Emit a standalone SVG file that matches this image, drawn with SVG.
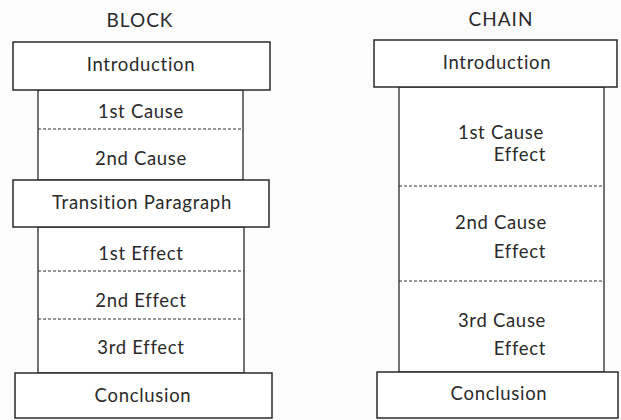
<svg xmlns="http://www.w3.org/2000/svg" width="621" height="420" viewBox="0 0 621 420">
<style>
.box{fill:#fff;stroke:#2a2a2a;stroke-width:1.5}
.col{fill:#fff;stroke:#2a2a2a;stroke-width:1.3}
.dash{stroke:#333;stroke-width:1.2;stroke-dasharray:3 2;fill:none}
text{font-family:Lato,"Open Sans",sans-serif;font-size:18.5px;letter-spacing:0.7px;fill:#2a2a2a;text-anchor:middle}
.title{font-size:19px;letter-spacing:1px}
</style>
<rect width="621" height="420" fill="#fcfcfc"/>
<g id="block">
  <text class="title" x="140" y="27">BLOCK</text>
  <g id="block-causes"><rect class="col" x="38" y="90" width="205" height="90"/>
    <text x="141" y="118">1st Cause</text><text x="141" y="165">2nd Cause</text></g>
  <g id="block-effects"><rect class="col" x="38" y="227" width="206" height="146"/>
    <text x="141" y="260">1st Effect</text><text x="141" y="307">2nd Effect</text><text x="141" y="354">3rd Effect</text></g>
  <g id="block-intro"><rect class="box" x="13" y="42" width="257" height="48"/><text x="141" y="71">Introduction</text></g>
  <g id="block-transition"><rect class="box" x="13" y="180" width="256" height="47"/><text x="142" y="209">Transition Paragraph</text></g>
  <g id="block-conclusion"><rect class="box" x="15" y="373" width="257" height="45"/><text x="143" y="402">Conclusion</text></g>
</g>
<g id="chain">
  <text class="title" x="501" y="26">CHAIN</text>
  <g id="chain-body"><rect class="col" x="399" y="87" width="205" height="285"/>
    <text x="501" y="139">1st Cause</text><text x="520" y="161">Effect</text>
    <text x="501" y="229">2nd Cause</text><text x="520" y="258">Effect</text>
    <text x="502" y="327">3rd Cause</text><text x="520" y="355">Effect</text></g>
  <g id="chain-intro"><rect class="box" x="374" y="40" width="243" height="47"/><text x="497" y="69">Introduction</text></g>
  <g id="chain-conclusion"><rect class="box" x="377" y="372" width="241" height="46"/><text x="499" y="400">Conclusion</text></g>
</g>
<g id="connectors">
  <line class="dash" x1="38" y1="129" x2="243" y2="129"/>
  <line class="dash" x1="38" y1="271" x2="244" y2="271"/>
  <line class="dash" x1="38" y1="319" x2="244" y2="319"/>
  <line class="dash" x1="399" y1="186" x2="604" y2="186"/>
  <line class="dash" x1="399" y1="281" x2="604" y2="281"/>
</g>
</svg>
